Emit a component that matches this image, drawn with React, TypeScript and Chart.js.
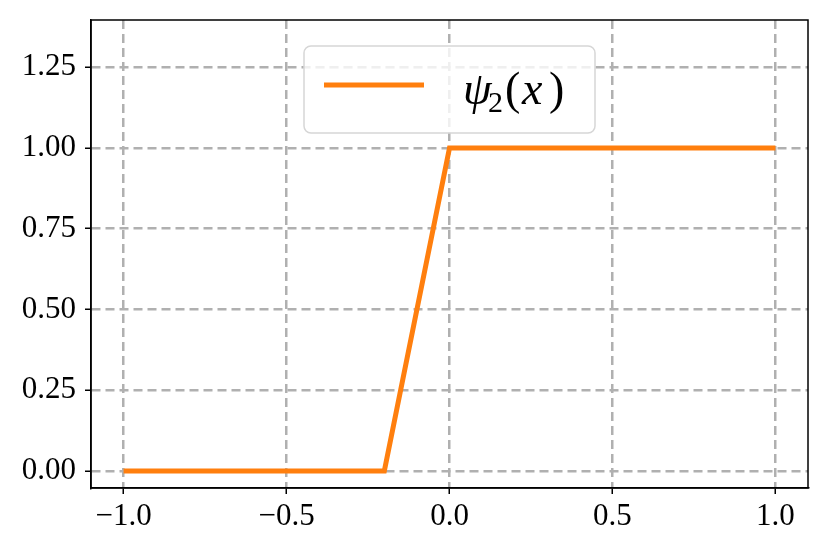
import React, { useEffect, useRef } from "react";
import { Chart, registerables } from "chart.js";

Chart.register(...registerables);

const xValues = [-1.0, -0.2, 0.0, 1.0];
const yValues = [0.0, 0.0, 1.0, 1.0];
const xTicks = [-1.0, -0.5, 0.0, 0.5, 1.0];
const yTicks = [0.0, 0.25, 0.5, 0.75, 1.0, 1.25];
const seriesName = "ψ2(x)";
const lineColor = "#ff7f0e";

const FONT = "'Liberation Serif', 'DejaVu Serif', serif";

const fmt = (v: number, d: number) => (v < 0 ? "\u2212" + Math.abs(v).toFixed(d) : v.toFixed(d));

const framePlugin = {
  id: "frame",
  afterDraw(chart: any) {
    const { ctx, chartArea: a } = chart;
    ctx.save();
    ctx.strokeStyle = "#000";
    ctx.lineWidth = 1.5;
    ctx.strokeRect(a.left, a.top, a.right - a.left, a.bottom - a.top);
    ctx.restore();
  },
};

const legendPlugin = {
  id: "mplLegend",
  afterDraw(chart: any) {
    const { ctx } = chart;
    const x0 = 304, y0 = 46, w = 291, h = 87, r = 7;
    ctx.save();
    ctx.beginPath();
    ctx.moveTo(x0 + r, y0);
    ctx.arcTo(x0 + w, y0, x0 + w, y0 + h, r);
    ctx.arcTo(x0 + w, y0 + h, x0, y0 + h, r);
    ctx.arcTo(x0, y0 + h, x0, y0, r);
    ctx.arcTo(x0, y0, x0 + w, y0, r);
    ctx.closePath();
    ctx.fillStyle = "rgba(255,255,255,0.8)";
    ctx.fill();
    ctx.strokeStyle = "#d6d6d6";
    ctx.lineWidth = 1.5;
    ctx.stroke();
    ctx.beginPath();
    ctx.moveTo(324, 85);
    ctx.lineTo(424, 85);
    ctx.strokeStyle = lineColor;
    ctx.lineWidth = 5;
    ctx.stroke();
    ctx.fillStyle = "#000";
    ctx.textBaseline = "alphabetic";
    const base = 104;
    const main = 46;
    ctx.font = "italic " + main + "px " + FONT;
    ctx.fillText("ψ", 463, base);
    ctx.font = "30px " + FONT;
    ctx.fillText("2", 488, base + 8);
    ctx.font = main + "px " + FONT;
    ctx.fillText("(", 505, base);
    ctx.font = "italic " + main + "px " + FONT;
    ctx.fillText("x", 522, base);
    ctx.font = main + "px " + FONT;
    ctx.fillText(")", 549, base);
    ctx.restore();
  },
};

export default function App() {
  const ref = useRef<HTMLCanvasElement | null>(null);
  useEffect(() => {
    if (!ref.current) return;
    const gridCommon = {
      color: "#b0b0b0",
      lineWidth: 2.5,
      drawTicks: true,
      tickLength: 6,
      tickColor: "#000",
      tickWidth: 1.5,
      tickBorderDash: [],
    };
    const chart = new Chart(ref.current, {
      type: "line",
      data: {
        datasets: [
          {
            label: seriesName,
            data: xValues.map((x, i) => ({ x, y: yValues[i] })),
            borderColor: lineColor,
            borderWidth: 5,
            pointRadius: 0,
            tension: 0,
            fill: false,
          },
        ],
      },
      options: {
        animation: false,
        responsive: false,
        devicePixelRatio: 1,
        layout: { padding: { left: 0, top: 20, right: 21, bottom: 0 } },
        plugins: { legend: { display: false }, tooltip: { enabled: false } },
        scales: {
          x: {
            type: "linear",
            min: -1.1,
            max: 1.1,
            afterBuildTicks: (s: any) => {
              s.ticks = xTicks.map((v) => ({ value: v }));
            },
            afterFit: (s: any) => {
              s.height = 65;
              s.paddingLeft = 0;
              s.paddingRight = 0;
            },
            grid: { ...gridCommon },
            border: { display: true, color: "#000", width: 1.5, dash: [9, 5] } as any,
            ticks: {
              color: "#000",
              font: { family: FONT, size: 31 },
              padding: 4,
              maxRotation: 0,
              callback: (v: any) => fmt(Number(v), 1),
            },
          },
          y: {
            type: "linear",
            min: -0.0526,
            max: 1.396,
            afterBuildTicks: (s: any) => {
              s.ticks = yTicks.map((v) => ({ value: v }));
            },
            afterFit: (s: any) => {
              s.width = 91;
              s.paddingTop = 0;
              s.paddingBottom = 0;
            },
            grid: { ...gridCommon },
            border: { display: true, color: "#000", width: 1.5, dash: [9, 5] } as any,
            ticks: {
              color: "#000",
              font: { family: FONT, size: 31 },
              padding: 9,
              callback: (v: any) => fmt(Number(v), 2),
            },
          },
        },
      } as any,
      plugins: [framePlugin, legendPlugin],
    });
    return () => chart.destroy();
  }, []);
  return (
    <div style={{ position: "fixed", left: 0, top: 0, width: 829, height: 553, background: "#fff" }}>
      <canvas ref={ref} width={829} height={553} style={{ width: 829, height: 553 }} />
    </div>
  );
}
